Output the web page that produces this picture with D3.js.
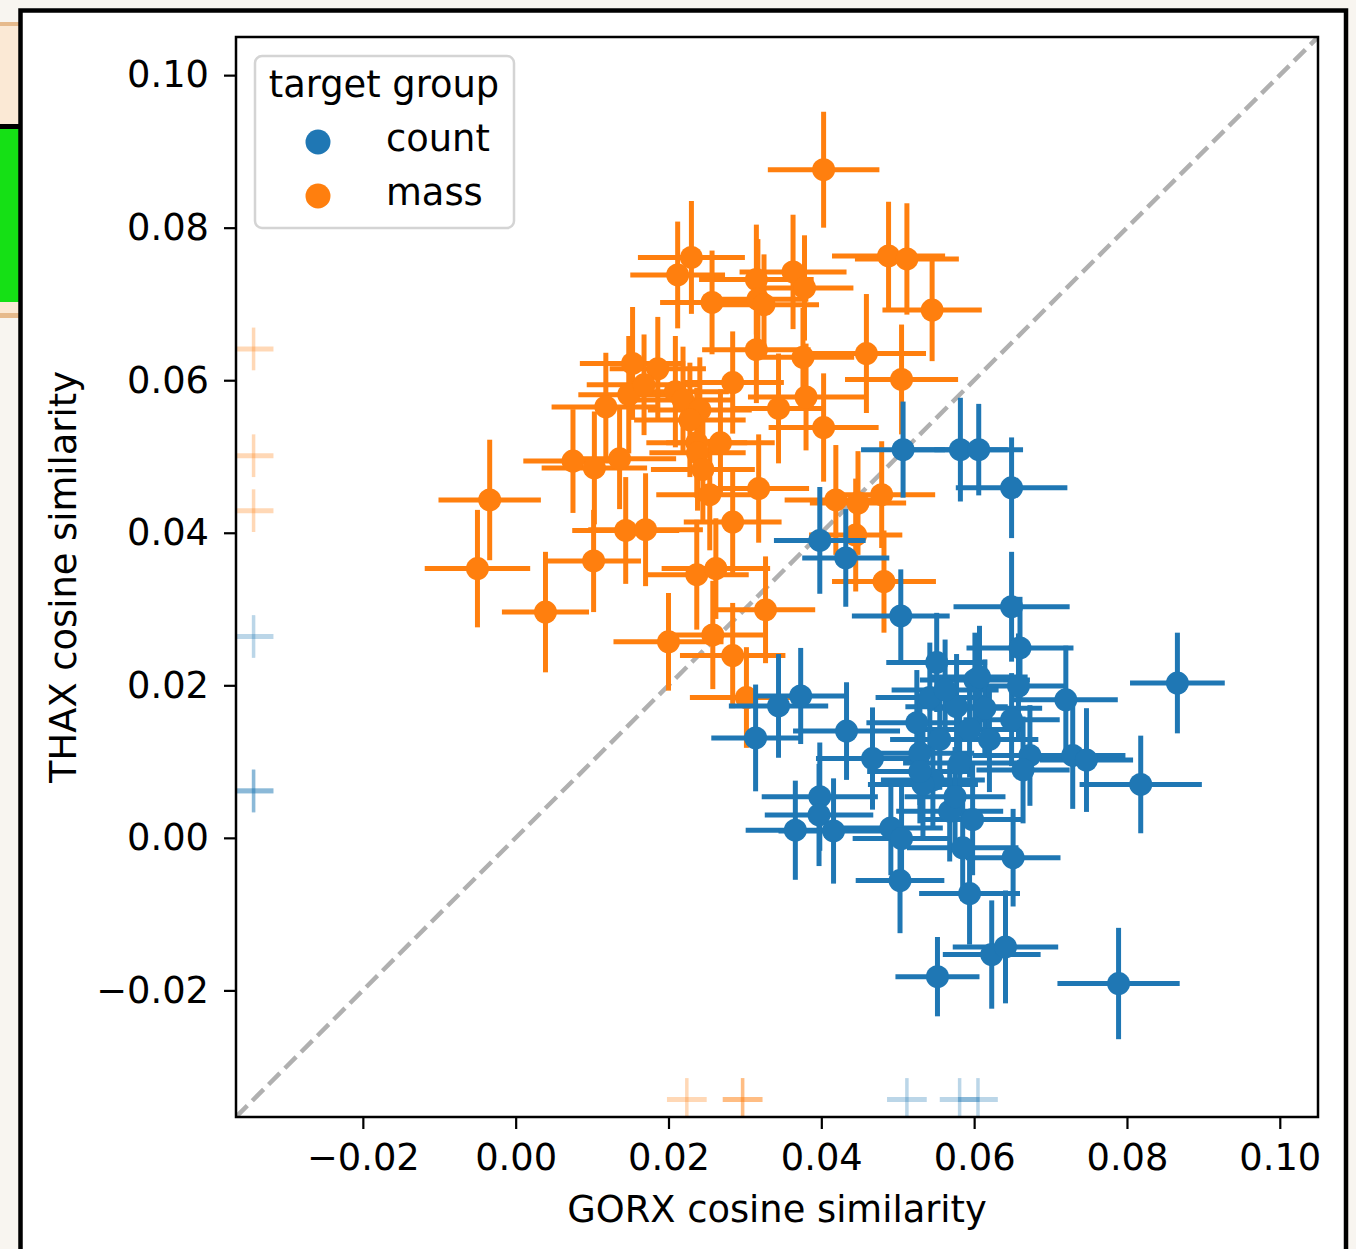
<!DOCTYPE html>
<html>
<head>
<meta charset="utf-8">
<script src="https://cdn.jsdelivr.net/npm/d3@7"></script>
<style>
  body { margin: 0; background: #f8f5f0; }
  text { font-family: "DejaVu Sans", sans-serif; fill: #000; }
</style>
</head>
<body>
<div id="chart"></div>
<script>
// canvas + plot box
var svgWidth = 1356,
    svgHeight = 1249;

var plot = { left: 236, right: 1318, top: 37, bottom: 1117 };
var fontSize = '36.8px';

// ---- data ----
var massX = [0.0403, 0.0212, 0.0230, 0.0257, 0.0315, 0.0317, 0.0325, 0.0363, 0.0378, 0.0488,
    0.0512, 0.0545, 0.0315, 0.0376, 0.0459, 0.0505, 0.0153, 0.0186, 0.0118, 0.0148,
    0.0168, 0.0209, 0.0219, 0.0241, 0.0228, 0.0284, 0.0344, 0.0380, 0.0403, 0.0075,
    0.0103, 0.0136, 0.0237, 0.0268, 0.0238, 0.0245, 0.0254, 0.0318, -0.0034, -0.0050,
    0.0102, 0.0144, 0.0170, 0.0284, 0.0039, 0.0237, 0.0262, 0.0327, 0.0200, 0.0258,
    0.0284, 0.0302, 0.0419, 0.0448, 0.0479, 0.0445, 0.0482];
var massY = [0.0876, 0.0738, 0.0761, 0.0702, 0.0732, 0.0706, 0.0699, 0.0742, 0.0721, 0.0763,
    0.0759, 0.0692, 0.0640, 0.0630, 0.0635, 0.0601, 0.0622, 0.0615, 0.0565, 0.0581,
    0.0594, 0.0585, 0.0574, 0.0561, 0.0548, 0.0597, 0.0563, 0.0578, 0.0538, 0.0494,
    0.0485, 0.0497, 0.0518, 0.0518, 0.0505, 0.0483, 0.0450, 0.0458, 0.0443, 0.0353,
    0.0363, 0.0403, 0.0404, 0.0414, 0.0296, 0.0345, 0.0353, 0.0299, 0.0257, 0.0266,
    0.0239, 0.0184, 0.0443, 0.0439, 0.0450, 0.0397, 0.0336];
var massXErr = [0.0073, 0.0062, 0.0070, 0.0068, 0.0075, 0.0066, 0.0072, 0.0070, 0.0064, 0.0074,
    0.0068, 0.0065, 0.0071, 0.0067, 0.0078, 0.0074, 0.0069, 0.0063, 0.0071, 0.0066,
    0.0075, 0.0070, 0.0064, 0.0068, 0.0073, 0.0067, 0.0061, 0.0076, 0.0072, 0.0065,
    0.0069, 0.0074, 0.0066, 0.0071, 0.0063, 0.0068, 0.0070, 0.0066, 0.0067, 0.0069,
    0.0062, 0.0070, 0.0075, 0.0064, 0.0057, 0.0068, 0.0071, 0.0065, 0.0072, 0.0066,
    0.0069, 0.0074, 0.0067, 0.0063, 0.0070, 0.0061, 0.0068];
var massYErr = [0.0076, 0.0070, 0.0074, 0.0068, 0.0072, 0.0079, 0.0066, 0.0075, 0.0069, 0.0071,
    0.0073, 0.0067, 0.0070, 0.0065, 0.0078, 0.0072, 0.0074, 0.0068, 0.0071, 0.0077,
    0.0066, 0.0073, 0.0070, 0.0069, 0.0075, 0.0067, 0.0072, 0.0070, 0.0071, 0.0068,
    0.0074, 0.0066, 0.0072, 0.0070, 0.0076, 0.0069, 0.0073, 0.0071, 0.0079, 0.0077,
    0.0067, 0.0070, 0.0074, 0.0068, 0.0079, 0.0072, 0.0066, 0.0070, 0.0064, 0.0071,
    0.0069, 0.0066, 0.0072, 0.0068, 0.0070, 0.0074, 0.0067];

var countX = [0.0507, 0.0582, 0.0606, 0.0649, 0.0398, 0.0432, 0.0504, 0.0649, 0.0551, 0.0660,
    0.0658, 0.0601, 0.0720, 0.0866, 0.0373, 0.0344, 0.0314, 0.0433, 0.0467, 0.0542,
    0.0525, 0.0649, 0.0673, 0.0729, 0.0747, 0.0818, 0.0398, 0.0397, 0.0366, 0.0416,
    0.0491, 0.0505, 0.0568, 0.0598, 0.0585, 0.0651, 0.0503, 0.0594, 0.0552, 0.0623,
    0.0641, 0.0789, 0.0529, 0.0546, 0.0581, 0.0555, 0.0594, 0.0577, 0.0607, 0.0533,
    0.0575, 0.0529, 0.0664, 0.0614, 0.0562, 0.0620];
var countY = [0.0509, 0.0509, 0.0509, 0.0459, 0.0390, 0.0367, 0.0291, 0.0303, 0.0230, 0.0249,
    0.0199, 0.0207, 0.0181, 0.0203, 0.0186, 0.0173, 0.0131, 0.0140, 0.0104, 0.0184,
    0.0151, 0.0155, 0.0108, 0.0108, 0.0102, 0.0070, 0.0054, 0.0030, 0.0010, 0.0009,
    0.0013, -0.0001, 0.0035, 0.0024, -0.0013, -0.0026, -0.0056, -0.0073, -0.0182, -0.0153,
    -0.0143, -0.0191, 0.0111, 0.0076, 0.0098, 0.0129, 0.0142, 0.0172, 0.0211, 0.0070,
    0.0054, 0.0087, 0.0089, 0.0170, 0.0194, 0.0129];
var countXErr = [0.0055, 0.0062, 0.0058, 0.0073, 0.0060, 0.0057, 0.0064, 0.0076, 0.0066, 0.0070,
    0.0063, 0.0072, 0.0068, 0.0062, 0.0059, 0.0065, 0.0058, 0.0070, 0.0074, 0.0071,
    0.0066, 0.0063, 0.0075, 0.0069, 0.0061, 0.0080, 0.0076, 0.0071, 0.0065, 0.0072,
    0.0068, 0.0064, 0.0070, 0.0067, 0.0073, 0.0062, 0.0058, 0.0066, 0.0055, 0.0064,
    0.0069, 0.0080, 0.0071, 0.0068, 0.0074, 0.0065, 0.0070, 0.0067, 0.0063, 0.0072,
    0.0066, 0.0069, 0.0061, 0.0075, 0.0070, 0.0064];
var countYErr = [0.0063, 0.0068, 0.0060, 0.0066, 0.0070, 0.0064, 0.0061, 0.0072, 0.0065, 0.0067,
    0.0069, 0.0062, 0.0071, 0.0066, 0.0063, 0.0068, 0.0070, 0.0064, 0.0067, 0.0072,
    0.0069, 0.0061, 0.0066, 0.0070, 0.0068, 0.0064, 0.0071, 0.0067, 0.0065, 0.0069,
    0.0062, 0.0068, 0.0066, 0.0073, 0.0070, 0.0064, 0.0069, 0.0067, 0.0052, 0.0071,
    0.0074, 0.0073, 0.0068, 0.0065, 0.0070, 0.0066, 0.0063, 0.0069, 0.0067, 0.0071,
    0.0065, 0.0068, 0.0070, 0.0064, 0.0066, 0.0069];

// faint crosses along the left and bottom edges (only one coordinate known)
var edgePos = -0.0343;
var massLeftY = [0.0641, 0.0501, 0.0429];
var countLeftY = [0.0264, 0.0062, 0.0061];
var massBottomX = [0.0224, 0.0297, 0.0297];
var countBottomX = [0.0512, 0.0581, 0.0605];
var edgeXErr = 0.0026,
    edgeYErr = 0.0028;

var groups = ['count', 'mass'];
var colors = ['#1f77b4', '#ff7f0e'];
var ticks = [-0.02, 0.00, 0.02, 0.04, 0.06, 0.08, 0.10];
var domain = [-0.0366, 0.1050];

// ---- svg ----
var svg = d3.select('#chart')
    .append('svg')
    .attr('width', svgWidth)
    .attr('height', svgHeight);

// bits of the surrounding window on the left
svg.append('rect').attr('x', 0).attr('y', 22).attr('width', 20).attr('height', 104).attr('fill', '#fbe9d5');
svg.append('rect').attr('x', 0).attr('y', 22).attr('width', 20).attr('height', 4).attr('fill', '#e6ba8c');
svg.append('rect').attr('x', 0).attr('y', 124).attr('width', 20).attr('height', 5).attr('fill', '#000');
svg.append('rect').attr('x', 0).attr('y', 129).attr('width', 20).attr('height', 173).attr('fill', '#15e015');
svg.append('rect').attr('x', 0).attr('y', 302).attr('width', 20).attr('height', 11).attr('fill', '#fbe9d5');
svg.append('rect').attr('x', 0).attr('y', 313).attr('width', 20).attr('height', 5).attr('fill', '#e6ba8c');

// figure frame
svg.append('rect')
    .attr('x', 20.5).attr('y', 10.5)
    .attr('width', 1325.5).attr('height', 1260)
    .attr('fill', '#fff')
    .attr('stroke', '#000')
    .attr('stroke-width', 4.5);

var xScale = d3.scaleLinear().domain(domain).range([plot.left, plot.right]);
var yScale = d3.scaleLinear().domain(domain).range([plot.bottom, plot.top]);

var fmt = d3.format('.2f');
var tickFmt = d => fmt(d).replace('-', '\u2212');

svg.append('clipPath').attr('id', 'plotclip')
    .append('rect')
    .attr('x', plot.left).attr('y', plot.top)
    .attr('width', plot.right - plot.left).attr('height', plot.bottom - plot.top);

var chartGroup = svg.append('g').attr('clip-path', 'url(#plotclip)');

// y = x reference line
chartGroup.append('line')
    .attr('x1', xScale(domain[0])).attr('y1', yScale(domain[0]))
    .attr('x2', xScale(domain[1])).attr('y2', yScale(domain[1]))
    .attr('stroke', '#b0b0b0')
    .attr('stroke-width', 4.5)
    .attr('stroke-dasharray', '16,7');

// edge crosses
var drawCross = (g, x, y, xe, ye, color, op) => {
    g.append('line')
        .attr('x1', xScale(x - xe)).attr('x2', xScale(x + xe))
        .attr('y1', yScale(y)).attr('y2', yScale(y))
        .attr('stroke', color).attr('stroke-width', 5).attr('stroke-opacity', op);
    g.append('line')
        .attr('x1', xScale(x)).attr('x2', xScale(x))
        .attr('y1', yScale(y - ye)).attr('y2', yScale(y + ye))
        .attr('stroke', color).attr('stroke-width', 3.5).attr('stroke-opacity', op);
};

var edgeGroup = chartGroup.append('g');
massLeftY.forEach(v => drawCross(edgeGroup, edgePos, v, edgeXErr, edgeYErr, colors[1], 0.3));
countLeftY.forEach(v => drawCross(edgeGroup, edgePos, v, edgeXErr, edgeYErr, colors[0], 0.3));
massBottomX.forEach(v => drawCross(edgeGroup, v, edgePos, edgeXErr, edgeYErr, colors[1], 0.3));
countBottomX.forEach(v => drawCross(edgeGroup, v, edgePos, edgeXErr, edgeYErr, colors[0], 0.3));

// main points with error bars (mass first, count on top)
var series = [
    { x: massX, y: massY, xe: massXErr, ye: massYErr, color: colors[1] },
    { x: countX, y: countY, xe: countXErr, ye: countYErr, color: colors[0] }
];

series.forEach(s => {
    var pts = s.x.map((v, i) => ({ x: v, y: s.y[i], xe: s.xe[i], ye: s.ye[i] }));
    var g = chartGroup.append('g');
    g.selectAll('line.h')
        .data(pts).enter()
        .append('line').attr('class', 'h')
        .attr('x1', d => xScale(d.x - d.xe)).attr('x2', d => xScale(d.x + d.xe))
        .attr('y1', d => yScale(d.y)).attr('y2', d => yScale(d.y))
        .attr('stroke', s.color).attr('stroke-width', 5);
    g.selectAll('line.v')
        .data(pts).enter()
        .append('line').attr('class', 'v')
        .attr('x1', d => xScale(d.x)).attr('x2', d => xScale(d.x))
        .attr('y1', d => yScale(d.y - d.ye)).attr('y2', d => yScale(d.y + d.ye))
        .attr('stroke', s.color).attr('stroke-width', 5);
    g.selectAll('circle')
        .data(pts).enter()
        .append('circle')
        .attr('cx', d => xScale(d.x)).attr('cy', d => yScale(d.y))
        .attr('r', 11.5)
        .attr('fill', s.color);
});

// axes
var xAxis = svg.append('g')
    .attr('transform', `translate(0,${plot.bottom})`)
    .call(d3.axisBottom(xScale).tickValues(ticks).tickFormat(tickFmt).tickSize(12).tickPadding(15));
var yAxis = svg.append('g')
    .attr('transform', `translate(${plot.left},0)`)
    .call(d3.axisLeft(yScale).tickValues(ticks).tickFormat(tickFmt).tickSize(12).tickPadding(15));

[xAxis, yAxis].forEach(a => {
    a.select('.domain').remove();
    a.selectAll('line').attr('stroke', '#000').attr('stroke-width', 2.2);
    a.selectAll('text').style('font-size', fontSize).attr('fill', '#000');
});

// spines
svg.append('rect')
    .attr('x', plot.left).attr('y', plot.top)
    .attr('width', plot.right - plot.left).attr('height', plot.bottom - plot.top)
    .attr('fill', 'none')
    .attr('stroke', '#000')
    .attr('stroke-width', 2.5);

// axis labels
svg.append('text')
    .attr('x', (plot.left + plot.right) / 2)
    .attr('y', 1222)
    .attr('text-anchor', 'middle')
    .style('font-size', fontSize)
    .text('GORX cosine similarity');

svg.append('text')
    .attr('transform', `translate(76,${(plot.top + plot.bottom) / 2})rotate(-90)`)
    .attr('text-anchor', 'middle')
    .style('font-size', fontSize)
    .text('THAX cosine similarity');

// legend
var legend = svg.append('g');
legend.append('rect')
    .attr('x', 255).attr('y', 56)
    .attr('width', 259).attr('height', 172)
    .attr('rx', 7)
    .attr('fill', '#fff').attr('fill-opacity', 0.8)
    .attr('stroke', '#d4d4d4').attr('stroke-width', 2.5);
legend.append('text')
    .attr('x', 384).attr('y', 97)
    .attr('text-anchor', 'middle')
    .style('font-size', fontSize)
    .text('target group');
groups.forEach((name, i) => {
    legend.append('circle')
        .attr('cx', 318).attr('cy', 142 + i * 54)
        .attr('r', 12.5)
        .attr('fill', colors[i]);
    legend.append('text')
        .attr('x', 386).attr('y', 151 + i * 54)
        .style('font-size', fontSize)
        .text(name);
});
</script>
</body>
</html>
